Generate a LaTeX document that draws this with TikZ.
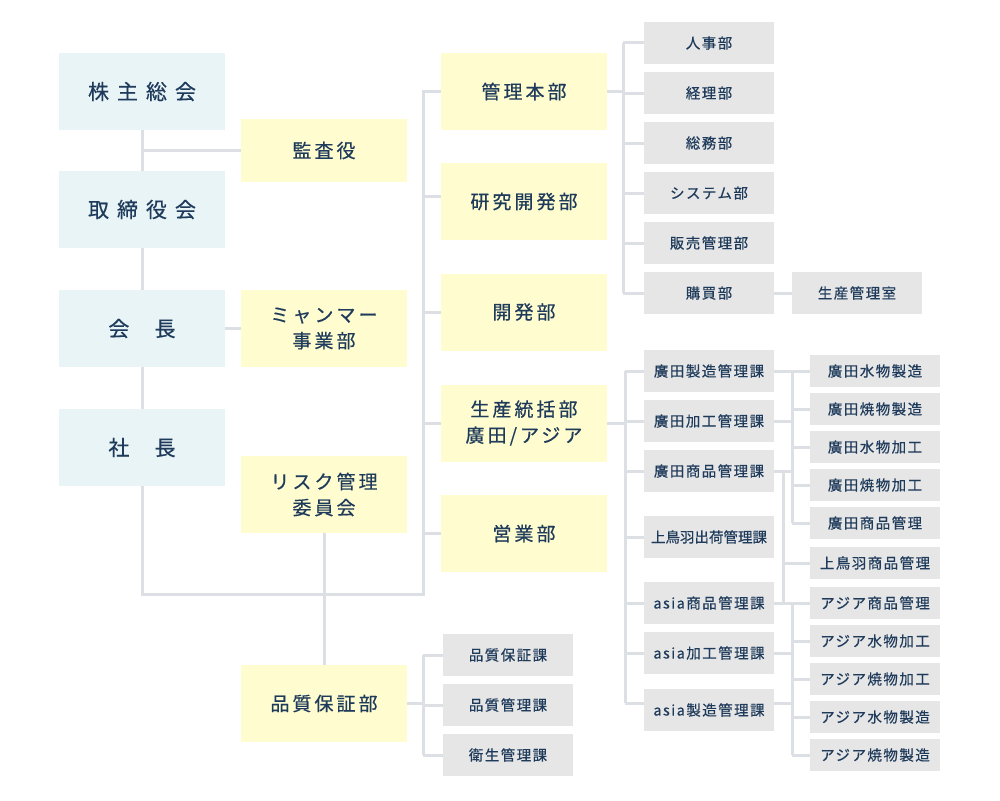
\documentclass[tikz,border=0pt]{standalone}
\usepackage{fontspec}
\setmainfont[FakeBold=0.5]{Noto Sans CJK JP}
\newfontfamily\jpwide[LetterSpace=38, FakeBold=0.5]{Noto Sans CJK JP}
\newfontfamily\jpmid[LetterSpace=16, FakeBold=0.5]{Noto Sans CJK JP}
\newfontfamily\jpsmall[LetterSpace=10, FakeBold=0.5]{Noto Sans CJK JP}
\definecolor{ink}{HTML}{1F3B5B}
\definecolor{topblue}{HTML}{E9F4F7}
\definecolor{deptyellow}{HTML}{FFFDCF}
\definecolor{secgray}{HTML}{E6E6E6}
\definecolor{linegray}{HTML}{DCE0E4}

\begin{document}
\begin{tikzpicture}[x=1pt, y=-1pt,
	lbox/.style={fill=topblue, text=ink, inner sep=0pt, minimum width=166pt, minimum height=77pt, font=\jpwide\fontsize{21}{26}\selectfont},
	ybox/.style={fill=deptyellow, text=ink, inner sep=0pt, align=center, minimum width=166pt, minimum height=77pt, font=\jpmid\fontsize{19}{26}\selectfont},
	gbox/.style={fill=secgray, text=ink, inner sep=0pt, minimum width=130pt, minimum height=42pt, font=\jpsmall\fontsize{14.5}{18}\selectfont},
	link/.style={draw=linegray, line width=3pt}]
	\useasboundingbox (0,0) rectangle (1000,800);
	% top management
	\node[lbox] (soukai) at (142,91.5) {株主総会};
	\node[lbox] (torishimari) at (142,209.5) {取締役会};
	\node[lbox, font=\fontsize{21}{26}\selectfont] (kaichou) at (142,328.5) {会\hspace{1.2em}長};
	\node[lbox, font=\fontsize{21}{26}\selectfont] (shachou) at (142,447.5) {社\hspace{1.2em}長};
	\node[ybox, minimum height=63pt] (kansa) at (324,150.5) {監査役};
	\node[ybox] (myanmar) at (324,328.5) {ミャンマー\\事業部};
	\node[ybox] (risk) at (324,494.5) {リスク管理\\委員会};
	\node[ybox] (hinshitsu) at (324,703.5) {品質保証部};
	% departments
	\node[ybox] (kanri) at (524,91.5) {管理本部};
	\node[ybox] (kenkyu) at (524,201.5) {研究開発部};
	\node[ybox] (kaihatsu) at (524,312) {開発部};
	\node[ybox] (seisan) at (524,423) {生産統括部\\廣田/アジア};
	\node[ybox] (eigyo) at (524,533.5) {営業部};
	% sections
	\foreach \n/\y/\t in {hosho/655/品質保証課, hkanri/705/品質管理課, eisei/755/衛生管理課}
		\node[gbox] (\n) at (508,\y) {\t};
	\foreach \n/\y/\t in {jinji/43/人事部, keiri/93/経理部, somu/143/総務部, system/193/システム部, hanbai/243/販売管理部, kobai/293/購買部}
		\node[gbox] (\n) at (709,\y) {\t};
	\node[gbox] (seisankanri) at (857,293) {生産管理室};
	\foreach \n/\y/\t in {hseizoka/371/廣田製造管理課, hkakouka/421/廣田加工管理課, hshohinka/471/廣田商品管理課, ashohinka/603/asia商品管理課, akakouka/653/asia加工管理課, aseizoka/710/asia製造管理課}
		\node[gbox] (\n) at (709,\y) {\t};
	\node[gbox, font=\fontsize{14.5}{18}\selectfont] (tobaka) at (709,537) {上鳥羽出荷管理課};
	\foreach \n/\y/\t in {hmizus/371/廣田水物製造, hyakis/409/廣田焼物製造, hmizuk/447/廣田水物加工, hyakik/485/廣田焼物加工, hshohin/523/廣田商品管理, toba/563/上鳥羽商品管理, ashohin/603/アジア商品管理, amizuk/641/アジア水物加工, ayakik/679/アジア焼物加工, amizus/717/アジア水物製造, ayakis/755/アジア焼物製造}
		\node[gbox, minimum height=32pt] (\n) at (875,\y) {\t};
	% trunk
	\coordinate (trunkfoot) at (423,594);
	\draw[link] (soukai) -- (torishimari);
	\draw[link] (torishimari) -- (kaichou);
	\draw[link] (kaichou) -- (shachou);
	\draw[link] (soukai.south |- kansa.west) -- (kansa.west);
	\draw[link] (kaichou.east) -- (myanmar.west);
	\draw[link] (shachou.south) |- (trunkfoot) |- (kanri.west);
	\draw[link] (trunkfoot |- 0,196) -- ([yshift=5.5pt]kenkyu.west);
	\foreach \n in {kaihatsu, seisan, eigyo}
		\draw[link] (trunkfoot |- \n.west) -- (\n.west);
	\draw[link] (risk.south) -- (hinshitsu.north);
	% quality sections
	\draw[link] (hinshitsu.east) -- (trunkfoot |- hinshitsu.east);
	\draw[link] (trunkfoot |- hosho.west) -- (trunkfoot |- eisei.west);
	\foreach \n in {hosho, hkanri, eisei}
		\draw[link] (trunkfoot |- \n.west) -- (\n.west);
	% administration
	\coordinate (kx) at (623,0);
	\draw[link] (kanri.east) -- (kx |- kanri.east);
	\draw[link] (kx |- jinji.west) -- (kx |- kobai.west);
	\foreach \n in {jinji, keiri, somu, system, hanbai, kobai}
		\draw[link] (kx |- \n.west) -- (\n.west);
	\draw[link] (kobai.east) -- (seisankanri.west);
	% production
	\coordinate (sx) at (625,0);
	\draw[link] (seisan.east) -- (sx |- seisan.east);
	\draw[link] (sx |- hseizoka.west) -- (sx |- 0,703);
	\foreach \n in {hseizoka, hkakouka, hshohinka, tobaka, ashohinka, akakouka}
		\draw[link] (sx |- \n.west) -- (\n.west);
	\draw[link] (sx |- 0,703) -- ([yshift=7pt]aseizoka.west);
	% lines
	\coordinate (hx) at (792,0);
	\coordinate (mx) at (783,0);
	\draw[link] (hseizoka.east) -- (hmizus.west);
	\draw[link] (hx |- hmizus.west) -- (hx |- hshohin.west);
	\foreach \n in {hyakis, hmizuk, hyakik, hshohin}
		\draw[link] (hx |- \n.west) -- (\n.west);
	\draw[link] (hkakouka.east) -- (hx |- hkakouka.east);
	\draw[link] (hshohinka.east) -- (hx |- hshohinka.east);
	\draw[link] (mx |- hshohinka.east) -- (mx |- ashohin.west);
	\draw[link] (mx |- toba.west) -- (toba.west);
	\draw[link] (ashohinka.east) -- (ashohin.west);
	\draw[link] (hx |- ashohin.west) -- (hx |- ayakis.west);
	\foreach \n in {amizuk, ayakik, amizus, ayakis}
		\draw[link] (hx |- \n.west) -- (\n.west);
	\draw[link] (akakouka.east) -- (hx |- akakouka.east);
	\draw[link] ([yshift=7pt]aseizoka.east) -- (hx |- 0,703);
\end{tikzpicture}
\end{document}
